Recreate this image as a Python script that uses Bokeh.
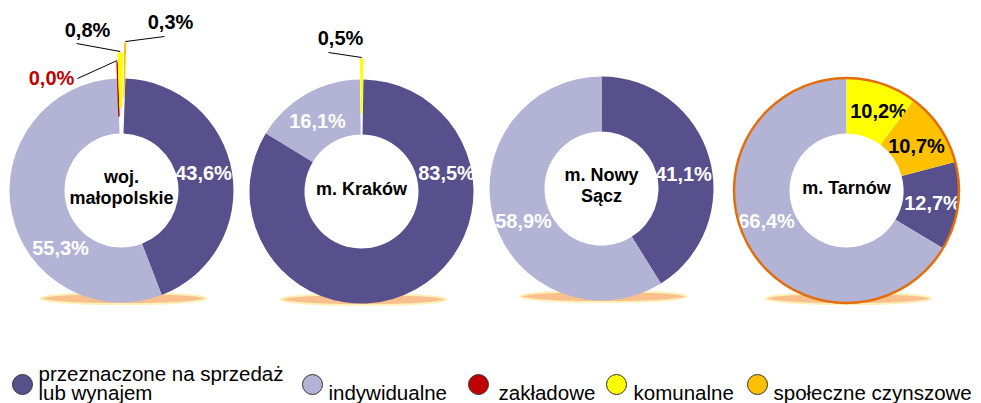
import math
from bokeh.plotting import figure
from bokeh.models import Range1d
from bokeh.core.properties import value
from bokeh.embed import file_html
from bokeh.resources import INLINE

# ---------------- data ----------------
regions = ["woj.\nmałopolskie", "m. Kraków", "m. Nowy\nSącz", "m. Tarnów"]
categories = ["przeznaczone na sprzedaż\nlub wynajem", "indywidualne", "zakładowe",
              "komunalne", "społeczne czynszowe"]
przeznaczone = [43.6, 83.5, 41.1, 12.7]
indywidualne = [55.3, 16.1, 58.9, 66.4]
zakladowe = [0.0, None, None, None]
komunalne = [0.8, 0.5, None, 10.2]
spoleczne = [0.3, None, None, 10.7]
series = [przeznaczone, indywidualne, zakladowe, komunalne, spoleczne]

# ---------------- style / layout ----------------
colors = ["#57508C", "#B3B3D6", "#C00000", "#FFFF00", "#FFC000"]
label_colors = ["white", "white", "#C00000", "black", "black"]
FONT = "Liberation Sans"
W, H = 981, 403


def sy(y):
    return H - y  # screen y -> data y


centers = [(121, 190), (361, 191), (601, 188), (846, 190)]
R_OUT, R_IN = 112, 57
rotation = [2.0, 1.0, 0.0, None]  # None -> 'komunalne' starts at 12 o'clock
explode = [[0, 0, 17, 26, 36], [0, 0, 0, 21, 0], [0, 0, 0, 0, 0], [0, 0, 0, 0, 0]]
label_off = [
    [(82, -18), (-61, 57), (-70, -113), (-34, -161), (49, -169)],
    [(85, -19), (-44, -71), None, (-21, -154), None],
    [(82, -15), (-78, 32), None, None, None],
    [(86, 12), (-80, 30), None, (32, -80), (70, -45)],
]
leader_off = [
    [None, None, (26, 1), (-11, 14), (-6, 15)],
    [None, None, None, (-12, 15), None],
    [None] * 5,
    [None] * 5,
]

p = figure(width=W, height=H, x_range=Range1d(0, W), y_range=Range1d(0, H),
           output_backend="svg", toolbar_location=None, x_axis_type=None, y_axis_type=None,
           min_border=0)
p.grid.visible = False
p.outline_line_color = None
p.background_fill_color = "white"

# shadows
for (cx, cy) in centers:
    p.ellipse(x=cx + 2, y=sy(cy + 108), width=166, height=11,
              fill_color="#F9BF8C", line_color="#FFEFB8", line_width=2)

for ci, (cx, cy) in enumerate(centers):
    vals = [s[ci] for s in series]
    total = sum(v for v in vals if v is not None)
    if rotation[ci] is None:
        before = sum(v for v in vals[:3] if v is not None)
        a = 360.0 * (total - before) / total
    else:
        a = rotation[ci]
    X0, Y0 = cx, sy(cy)
    for k, v in enumerate(vals):
        if v is None:
            continue
        span = 360.0 * v / total
        a0, a1 = a, a + span
        mid = math.radians((a0 + a1) / 2)
        e = explode[ci][k]
        ox, oy = X0 + e * math.sin(mid), Y0 + e * math.cos(mid)
        if span > 0:
            p.annular_wedge(x=ox, y=oy, inner_radius=R_IN, outer_radius=R_OUT,
                            start_angle=math.radians(90 - a1), end_angle=math.radians(90 - a0),
                            direction="anticlock", fill_color=colors[k], line_color=None)
        else:
            p.segment(x0=ox + R_IN * math.sin(mid), y0=oy + R_IN * math.cos(mid),
                      x1=ox + R_OUT * math.sin(mid), y1=oy + R_OUT * math.cos(mid),
                      line_color=colors[k], line_width=1.5)
        lo = label_off[ci][k]
        if lo is not None:
            lx, ly = cx + lo[0], cy + lo[1]
            txt = ("%.1f" % v).replace(".", ",") + "%"
            p.text(x=[lx], y=[sy(ly)], text=[txt], text_font=value(FONT), text_font_size="20px",
                   text_font_style="bold", text_color=label_colors[k],
                   text_align="center", text_baseline="middle")
            ld = leader_off[ci][k]
            if ld is not None:
                tx, ty = ox + (R_OUT + 1) * math.sin(mid), oy + (R_OUT + 1) * math.cos(mid)
                p.segment(x0=lx + ld[0], y0=sy(ly + ld[1]), x1=tx, y1=ty,
                          line_color="black", line_width=1)
        a = a1
    # centre label
    lines = regions[ci].split("\n")
    n = len(lines)
    for i, line in enumerate(lines):
        yy = cy - 3 - (n - 1) * 10.5 + i * 21
        p.text(x=[cx], y=[sy(yy)], text=[line], text_font=value(FONT), text_font_size="18px",
               text_font_style="bold", text_color="black", text_align="center",
               text_baseline="middle")

# Tarnów outline
p.circle(x=centers[3][0], y=sy(centers[3][1]), radius=R_OUT + 0.5, fill_color=None,
         line_color="#E46C0A", line_width=2.5)

# legend
leg_cx = [22, 312, 478, 616, 757]
leg_tx = [38, 328, 498, 633, 773]
for k, cat in enumerate(categories):
    p.scatter(x=leg_cx[k], y=sy(384), size=20, marker="circle", fill_color=colors[k],
              line_color="#333333", line_width=1)
    lines = cat.split("\n")
    n = len(lines)
    for i, line in enumerate(lines):
        yb = 392 - (n - 1) * 19 + i * 19
        p.text(x=[leg_tx[k]], y=[sy(yb)], text=[line], text_font=value(FONT),
               text_font_size="20.5px", text_color="black", text_align="left",
               text_baseline="alphabetic")

template = """
{% block postamble %}
<style>html, body { overflow: hidden; }</style>
{% endblock %}
"""
open("out.html", "w").write(file_html(p, INLINE, template=template))
